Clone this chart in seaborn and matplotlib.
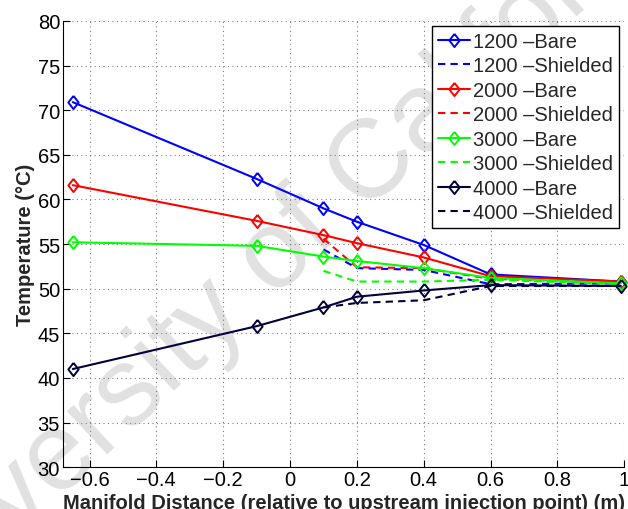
import matplotlib
matplotlib.use("Agg")
import matplotlib.pyplot as plt
import numpy as np
import pandas as pd
import seaborn as sns

# Measurement positions along the manifold (m)
distance = [-0.65, -0.1, 0.1, 0.2, 0.4, 0.6, 0.99]
shield_distance = [0.1, 0.2, 0.4, 0.6, 0.99]

# Bare thermocouple temperatures (°C)
bare_1200 = [70.9, 62.3, 59.0, 57.5, 54.9, 51.6, 50.8]
bare_2000 = [61.6, 57.6, 56.0, 55.1, 53.5, 51.4, 50.8]
bare_3000 = [55.2, 54.8, 53.6, 53.1, 52.3, 51.2, 50.6]
bare_4000 = [41.0, 45.8, 47.9, 49.1, 49.8, 50.4, 50.3]

# Shielded thermocouple temperatures (°C)
shield_1200 = [54.4, 52.3, 52.1, 50.5, 50.6]
shield_2000 = [55.6, 52.4, 52.3, 51.1, 50.7]
shield_3000 = [52.0, 50.8, 50.8, 51.0, 50.5]
shield_4000 = [47.9, 48.4, 48.7, 50.3, 50.3]

flows = ["1200", "2000", "3000", "4000"]
colors = ["#0000ff", "#ff0000", "#00ff00", "#00003a"]

x_ticks = [-0.6, -0.4, -0.2, 0, 0.2, 0.4, 0.6, 0.8, 1]
x_labels = ["\u22120.6", "\u22120.4", "\u22120.2", "0", "0.2", "0.4", "0.6", "0.8", "1"]
y_ticks = [30, 35, 40, 45, 50, 55, 60, 65, 70, 75, 80]

sns.set_style("white")
plt.rcParams["font.family"] = ["Liberation Sans", "DejaVu Sans"]

# open diamond, a little narrower than it is tall
diamond = [(0, 1), (0.78, 0), (0, -1), (-0.78, 0), (0, 1)]

fig = plt.figure(figsize=(6.28, 5.10), dpi=100)
ax = fig.add_axes([0.100, 0.082, 0.894, 0.875])
ax.patch.set_alpha(0)

bare = [bare_1200, bare_2000, bare_3000, bare_4000]
shield = [shield_1200, shield_2000, shield_3000, shield_4000]

for flow, col, b, s in zip(flows, colors, bare, shield):
    sns.lineplot(x=distance, y=b, ax=ax, color=col, lw=1.5, marker=diamond,
                 markersize=9.5, markerfacecolor="none", markeredgecolor=col,
                 markeredgewidth=1.4, label=f"{flow} \u2013Bare", clip_on=False)
    sns.lineplot(x=shield_distance, y=s, ax=ax, color=col, lw=1.5,
                 linestyle=(0, (3.5, 2.5)), label=f"{flow} \u2013Shielded")

ax.set_xlim(-0.68, 1.0)
ax.set_ylim(30, 80)
ax.set_xticks(x_ticks)
ax.set_xticklabels(x_labels)
ax.set_yticks(y_ticks)
ax.tick_params(direction="in", length=5, width=0.8, labelsize=14.5, pad=2,
               bottom=True, left=True, top=False, right=False, colors="black")
ax.grid(True, linestyle=(0, (1, 3)), color="#808080", lw=0.8)
for side in ["top", "right"]:
    ax.spines[side].set_visible(False)
for side in ["left", "bottom"]:
    ax.spines[side].set_color("black")
    ax.spines[side].set_linewidth(0.8)

ax.set_xlabel("Manifold Distance (relative to upstream injection point) (m)",
              fontsize=14.5, fontweight="bold", labelpad=3)
ax.set_ylabel("Temperature (\u00b0C)", fontsize=14.5, fontweight="bold", labelpad=2)

leg = ax.legend(loc="upper right", fontsize=14.5, frameon=True, fancybox=False,
                framealpha=1, borderaxespad=0.25, handlelength=1.6,
                handletextpad=0.15, labelspacing=0.27, borderpad=0.3)
leg.get_frame().set_edgecolor("black")
leg.get_frame().set_linewidth(1.0)
leg.set_zorder(10)

# watermark sits beneath the data lines and the legend box
ax.text(-0.168, -0.280, "University of California", transform=fig.transFigure,
        fontsize=80, color="black", alpha=0.12, rotation=43,
        rotation_mode="anchor", ha="left", va="baseline", zorder=0.5,
        clip_on=False)

fig.savefig("out.png", dpi=100)
